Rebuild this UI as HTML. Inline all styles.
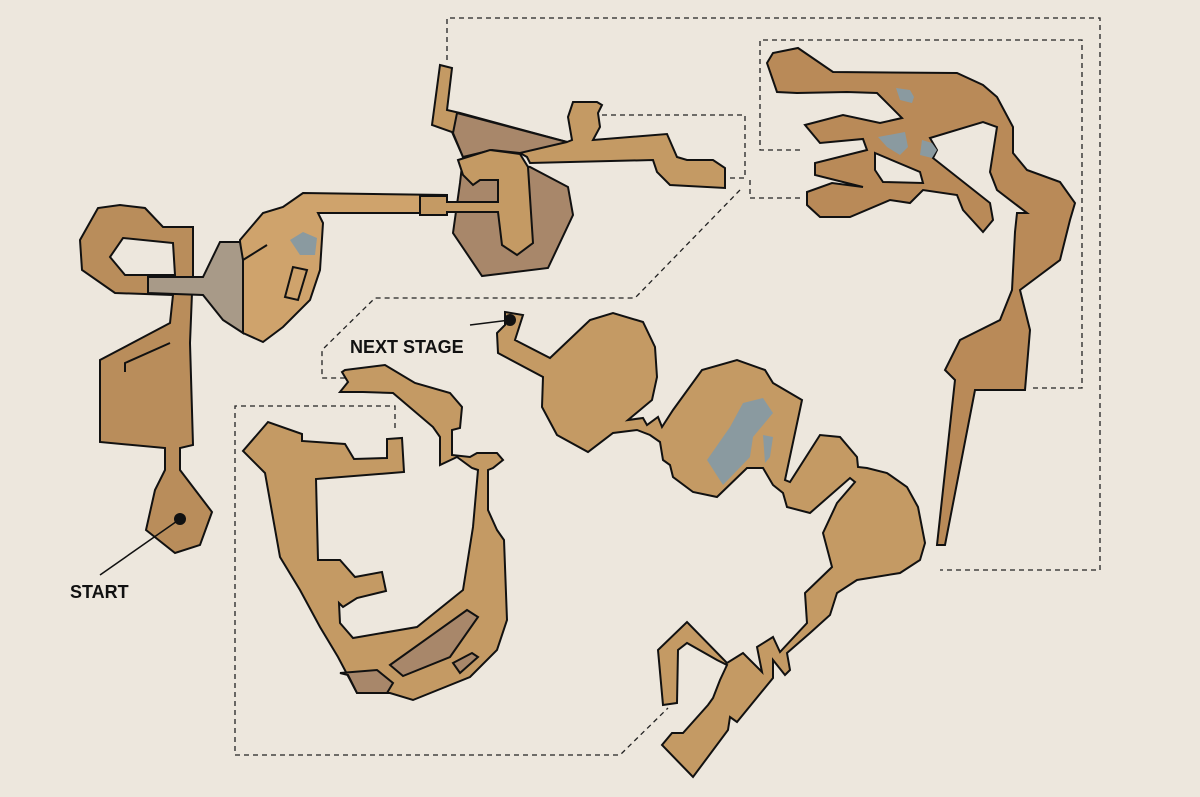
<!DOCTYPE html>
<html><head><meta charset="utf-8"><style>
html,body{margin:0;padding:0;background:#ede7dd;}
svg{display:block}
text{font-family:"Liberation Sans",sans-serif;font-weight:bold;fill:#111}
</style></head><body>
<svg width="1200" height="797" viewBox="0 0 1200 797" xmlns="http://www.w3.org/2000/svg">
<rect width="1200" height="797" fill="#ede7dd"/>
<g fill="none" stroke="#222" stroke-width="1.3" stroke-dasharray="5,4">
<polyline points="447,60 447,18 1100,18 1100,570 940,570"/>
<polyline points="800,150 760,150 760,40 1082,40 1082,388 1030,388"/>
<polyline points="602,115 745,115 745,178 730,178"/>
<polyline points="750,180 750,198 800,198"/>
<polyline points="740,190 635,298 375,298 322,350 322,378 345,378"/>
<polyline points="395,428 395,406 235,406 235,755 620,755 668,708"/>
</g>
<g stroke="#111" stroke-width="2" stroke-linejoin="miter" fill="#c49a64">
<!-- left loop + block -->
<path fill-rule="evenodd" fill="#b98d5b" d="M80,240 L98,208 L120,205 L145,208 L163,227 L193,227 L193,277 L192,293 L190,343 L193,445 L180,448 L180,470 L212,512 L200,545 L175,553 L146,530 L155,490 L165,470 L165,448 L100,442 L100,360 L170,323 L173,295 L115,293 L82,270 Z M123,238 L173,243 L175,275 L125,275 L110,257 Z"/>
<polyline fill="none" points="125,372 125,363 170,343"/>
<!-- pod -->
<path fill="#cfa36c" d="M240,240 L263,213 L283,207 L303,193 L447,195 L447,213 L318,213 L323,223 L320,270 L310,300 L283,327 L263,342 L243,333 Z"/>
<path fill="#a89a88" d="M148,277 L203,277 L220,242 L240,242 L243,260 L243,333 L223,320 L203,295 L148,293 Z"/>
<polyline fill="none" points="243,260 267,245"/>
<polygon fill="none" points="285,297 293,267 307,270 298,300"/>
<!-- top middle -->
<path d="M440,65 L452,68 L447,110 L460,113 L567,142 L572,140 L568,117 L573,102 L597,102 L602,105 L598,113 L600,127 L593,140 L667,134 L677,157 L687,160 L713,160 L725,168 L725,188 L670,185 L657,172 L653,160 L530,163 L527,157 L520,153 L492,150 L463,157 L452,132 L432,125 Z"/>
<path fill="#a8876a" d="M457,113 L567,142 L520,153 L492,150 L463,157 L453,133 Z"/>
<path fill="#a8876a" d="M460,183 L453,233 L482,276 L548,268 L573,215 L568,187 L530,167 L463,157 Z"/>
<path fill="#c49a64" d="M458,160 L490,150 L520,154 L528,167 L533,243 L517,255 L502,245 L498,212 L447,212 L447,215 L420,215 L420,196 L447,196 L447,202 L498,202 L498,180 L480,180 L473,185 L463,175 Z"/>
<!-- right structure -->
<path fill-rule="evenodd" fill="#b98a58" d="M767,63 L773,53 L798,48 L833,72 L957,73 L983,85 L997,97 L1013,127 L1013,153 L1027,170 L1060,182 L1075,203 L1070,220 L1060,260 L1020,290 L1030,330 L1025,390 L975,390 L945,545 L937,545 L955,380 L945,370 L960,340 L1000,320 L1012,290 L1015,232 L1017,213 L1027,213 L997,190 L990,172 L997,127 L983,122 L930,138 L937,150 L933,158 L990,203 L993,220 L983,232 L963,210 L957,195 L923,190 L910,203 L890,200 L850,217 L820,217 L807,205 L807,192 L832,183 L863,187 L815,175 L815,163 L867,150 L863,139 L820,143 L805,125 L843,115 L880,123 L902,118 L877,93 L847,92 L797,93 L777,92 Z M875,153 L920,172 L923,183 L883,182 L875,170 Z"/>
<!-- middle right -->
<path fill="#c49a64" d="M505,312 L523,315 L515,340 L550,358 L590,320 L613,313 L643,322 L655,347 L657,377 L652,400 L628,420 L643,418 L647,425 L658,417 L662,427 L673,410 L702,370 L737,360 L765,370 L773,383 L802,400 L785,480 L790,482 L820,435 L840,437 L857,457 L858,467 L867,468 L887,473 L907,487 L918,507 L925,543 L920,560 L900,573 L857,580 L837,593 L830,615 L810,633 L787,653 L790,670 L785,675 L773,660 L773,678 L737,722 L730,717 L728,730 L693,777 L662,745 L672,733 L683,733 L708,705 L713,698 L720,680 L727,665 L717,660 L687,643 L678,650 L677,703 L663,705 L658,650 L687,622 L727,663 L743,653 L762,672 L757,647 L773,637 L780,652 L807,623 L805,593 L832,567 L823,533 L837,503 L855,482 L850,478 L810,513 L787,507 L783,493 L773,485 L763,468 L747,468 L717,497 L693,492 L673,477 L670,465 L663,460 L660,442 L650,435 L637,430 L613,433 L588,452 L557,435 L542,407 L543,377 L498,353 L497,333 L505,325 Z"/>
<!-- bottom left ring -->
<path fill="#c49a64" d="M345,370 L385,365 L415,383 L450,393 L462,407 L460,428 L452,430 L452,455 L470,457 L477,453 L497,453 L503,460 L493,468 L488,470 L488,510 L497,530 L504,540 L507,620 L497,650 L470,677 L413,700 L390,693 L357,693 L338,657 L320,627 L300,590 L280,557 L265,473 L243,451 L268,422 L302,434 L302,441 L345,444 L354,459 L387,458 L387,439 L402,438 L404,472 L316,479 L318,560 L340,560 L355,577 L382,572 L386,591 L357,598 L343,607 L339,603 L340,623 L353,638 L417,627 L463,590 L473,527 L478,470 L472,468 L457,457 L440,465 L440,437 L433,427 L393,393 L363,392 L340,392 L348,382 L342,372 Z"/>
<polygon fill="#a8876a" points="340,673 377,670 393,683 387,693 357,693 348,675"/>
<polygon fill="#a8876a" points="390,665 467,610 478,617 450,657 403,676"/>
<polygon fill="#a8876a" points="453,663 472,653 478,657 460,673"/>
</g>
<g fill="#8a9aa0" stroke="none">
<polygon points="290,240 303,232 317,238 315,255 300,255"/>
<polygon points="896,88 910,90 914,97 912,103 900,100"/>
<polygon points="878,137 905,132 908,147 900,155 887,147"/>
<polygon points="922,140 932,143 937,150 932,158 920,155"/>
<polygon points="707,460 730,427 743,403 763,398 773,413 753,437 750,457 723,485"/>
<polygon points="763,435 773,437 770,457 765,463"/>
</g>
<g stroke="#111" stroke-width="1.5">
<line x1="180" y1="519" x2="100" y2="575"/>
<line x1="510" y1="320" x2="470" y2="325"/>
</g>
<circle cx="180" cy="519" r="6" fill="#111"/>
<circle cx="510" cy="320" r="6" fill="#111"/>
<text x="70" y="598" font-size="18">START</text>
<text x="350" y="353" font-size="18">NEXT STAGE</text>
</svg>
</body></html>
